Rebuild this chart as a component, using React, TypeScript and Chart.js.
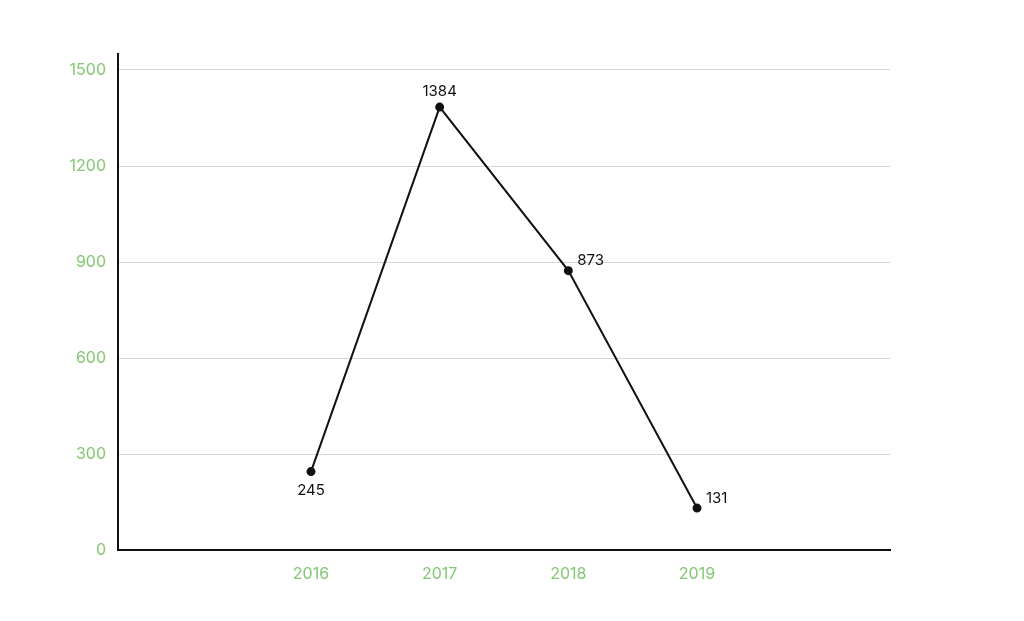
import React, { useEffect, useRef } from "react";
import { Chart, registerables } from "chart.js";

Chart.register(...registerables);

const categories = ["", "2016", "2017", "2018", "2019", ""];
const values = [null, 245, 1384, 873, 131, null];
const labelPlacement = ["", "below", "above", "right", "right", ""];
const yTicks = [0, 300, 600, 900, 1200, 1500];

const GREEN = "#82c873";
const FONT = "Inter, 'Noto Sans', sans-serif";

const valueLabels = {
  id: "valueLabels",
  afterDatasetsDraw(chart: any) {
    const ctx = chart.ctx;
    const meta = chart.getDatasetMeta(0);
    ctx.save();
    ctx.font = `15px ${FONT}`;
    ctx.fillStyle = "#111";
    meta.data.forEach((pt: any, i: number) => {
      const v = values[i];
      if (v == null) return;
      const place = labelPlacement[i];
      const text = String(v);
      if (place === "below") {
        ctx.textAlign = "center";
        ctx.textBaseline = "middle";
        ctx.fillText(text, pt.x, pt.y + 19);
      } else if (place === "above") {
        ctx.textAlign = "center";
        ctx.textBaseline = "middle";
        ctx.fillText(text, pt.x, pt.y - 16);
      } else {
        ctx.textAlign = "left";
        ctx.textBaseline = "middle";
        ctx.fillText(text, pt.x + 9, pt.y - 10);
      }
    });
    ctx.restore();
  },
};

export default function App() {
  const ref = useRef<HTMLCanvasElement>(null);
  useEffect(() => {
    if (!ref.current) return;
    const chart = new Chart(ref.current, {
      type: "line",
      data: {
        labels: categories,
        datasets: [
          {
            data: values as any,
            borderColor: "#111",
            borderWidth: 2,
            pointBackgroundColor: "#111",
            pointBorderColor: "#111",
            pointRadius: 3.5,
            tension: 0,
            spanGaps: false,
          },
        ],
      },
      options: {
        animation: false,
        responsive: false,
        maintainAspectRatio: false,
        layout: { padding: { left: 0, right: 134, top: 54, bottom: 0 } },
        plugins: { legend: { display: false }, tooltip: { enabled: false } },
        scales: {
          x: {
            offset: true,
            grid: { display: true, color: "transparent", drawTicks: false },
            border: { display: true, color: "#111", width: 2 },
            ticks: { color: GREEN, font: { family: FONT, size: 16 }, padding: 15 },
            afterFit(scale: any) {
              scale.height = 621 - 550;
            },
          },
          y: {
            min: 0,
            max: 1550,
            afterBuildTicks(scale: any) {
              scale.ticks = yTicks.map((v) => ({ value: v }));
            },
            grid: {
              color: (c: any) => (c.tick && c.tick.value === 0 ? "transparent" : "#d6d6d6"),
              lineWidth: 1,
              drawTicks: false,
            },
            border: { display: true, color: "#111", width: 2 },
            ticks: {
              color: GREEN,
              font: { family: FONT, size: 16 },
              padding: 12,
              callback: (v: any) => String(v),
            },
            afterFit(scale: any) {
              scale.width = 118;
            },
          },
        },
      },
      plugins: [valueLabels],
    });
    return () => chart.destroy();
  }, []);
  return (
    <div style={{ position: "absolute", left: 0, top: 0, width: 1024, height: 621, background: "#fff" }}>
      <canvas ref={ref} width={1024} height={621} />
    </div>
  );
}
